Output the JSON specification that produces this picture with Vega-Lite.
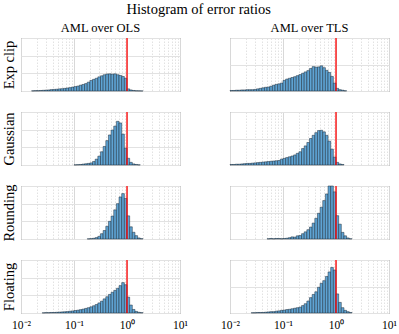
{
  "$schema": "https://vega.github.io/schema/vega-lite/v6.json",
  "padding": {"left": 0, "top": 1, "right": 5, "bottom": 1},
  "title": {"text": "Histogram of error ratios", "font": "Liberation Serif", "fontSize": 14.5, "fontWeight": "normal", "color": "#000000", "anchor": "middle", "frame": "bounds", "offset": 4},
  "config": {
    "view": {"stroke": "#6a6a6a", "strokeWidth": 1},
    "title": {"font": "Liberation Serif", "fontSize": 12.5, "fontWeight": "normal", "color": "#000000", "offset": 3},
    "axis": {"titleFont": "Liberation Serif", "titleFontSize": 14.5, "titleFontWeight": "normal", "titleColor": "#000000", "titlePadding": 5}
  },
  "data": {"values": [
    {"lo": 0.01, "hi": 0.01122, "B": 0.02, "D": 0.02},
    {"lo": 0.01122, "hi": 0.01259, "B": 0.02, "D": 0.02},
    {"lo": 0.01259, "hi": 0.01413, "B": 0.03, "D": 0.03},
    {"lo": 0.01413, "hi": 0.01585, "B": 0.03, "D": 0.03},
    {"lo": 0.01585, "hi": 0.01778, "A": 0.01, "B": 0.04, "D": 0.04},
    {"lo": 0.01778, "hi": 0.01995, "A": 0.02, "B": 0.04, "D": 0.05},
    {"lo": 0.01995, "hi": 0.02239, "A": 0.02, "B": 0.05, "D": 0.06},
    {"lo": 0.02239, "hi": 0.02512, "A": 0.03, "B": 0.05, "D": 0.06},
    {"lo": 0.02512, "hi": 0.02818, "A": 0.04, "B": 0.05, "D": 0.07, "G": 0.01, "H": 0.01},
    {"lo": 0.02818, "hi": 0.03162, "A": 0.05, "B": 0.06, "D": 0.08, "G": 0.02, "H": 0.01},
    {"lo": 0.03162, "hi": 0.03548, "A": 0.06, "B": 0.08, "D": 0.09, "G": 0.02, "H": 0.02},
    {"lo": 0.03548, "hi": 0.03981, "A": 0.08, "B": 0.1, "D": 0.1, "G": 0.03, "H": 0.02},
    {"lo": 0.03981, "hi": 0.04467, "A": 0.09, "B": 0.12, "D": 0.11, "G": 0.03, "H": 0.02},
    {"lo": 0.04467, "hi": 0.05012, "A": 0.1, "B": 0.14, "D": 0.12, "G": 0.04, "H": 0.03},
    {"lo": 0.05012, "hi": 0.05623, "A": 0.12, "B": 0.15, "D": 0.13, "F": 0.01, "G": 0.05, "H": 0.04},
    {"lo": 0.05623, "hi": 0.0631, "A": 0.13, "B": 0.18, "D": 0.14, "F": 0.02, "G": 0.06, "H": 0.05},
    {"lo": 0.0631, "hi": 0.07079, "A": 0.15, "B": 0.22, "D": 0.15, "F": 0.01, "G": 0.07, "H": 0.05},
    {"lo": 0.07079, "hi": 0.07943, "A": 0.17, "B": 0.25, "D": 0.16, "F": 0.02, "G": 0.08, "H": 0.07},
    {"lo": 0.07943, "hi": 0.08913, "A": 0.19, "B": 0.27, "D": 0.17, "F": 0.02, "G": 0.1, "H": 0.08},
    {"lo": 0.08913, "hi": 0.1, "A": 0.22, "B": 0.3, "D": 0.22, "F": 0.01, "G": 0.12, "H": 0.1},
    {"lo": 0.1, "hi": 0.1122, "A": 0.25, "B": 0.4, "C": 0.01, "D": 0.25, "F": 0.02, "G": 0.14, "H": 0.11},
    {"lo": 0.1122, "hi": 0.1259, "A": 0.28, "B": 0.45, "C": 0.02, "D": 0.28, "F": 0.03, "G": 0.16, "H": 0.13},
    {"lo": 0.1259, "hi": 0.1413, "A": 0.33, "B": 0.48, "C": 0.03, "D": 0.31, "F": 0.05, "G": 0.19, "H": 0.14},
    {"lo": 0.1413, "hi": 0.1585, "A": 0.37, "B": 0.51, "C": 0.05, "D": 0.34, "F": 0.08, "G": 0.22, "H": 0.16},
    {"lo": 0.1585, "hi": 0.1778, "A": 0.42, "B": 0.54, "C": 0.07, "D": 0.38, "F": 0.07, "G": 0.26, "H": 0.18},
    {"lo": 0.1778, "hi": 0.1995, "A": 0.5, "B": 0.58, "C": 0.09, "D": 0.44, "E": 0.01, "F": 0.12, "G": 0.3, "H": 0.2},
    {"lo": 0.1995, "hi": 0.2239, "A": 0.6, "B": 0.62, "C": 0.12, "D": 0.5, "E": 0.02, "F": 0.13, "G": 0.35, "H": 0.22},
    {"lo": 0.2239, "hi": 0.2512, "A": 0.66, "B": 0.67, "C": 0.2, "D": 0.62, "E": 0.04, "F": 0.2, "G": 0.41, "H": 0.28},
    {"lo": 0.2512, "hi": 0.2818, "A": 0.72, "B": 0.72, "C": 0.33, "D": 0.72, "E": 0.08, "F": 0.27, "G": 0.48, "H": 0.35},
    {"lo": 0.2818, "hi": 0.3162, "A": 0.8, "B": 0.77, "C": 0.5, "D": 0.85, "E": 0.15, "F": 0.35, "G": 0.57, "H": 0.45},
    {"lo": 0.3162, "hi": 0.3548, "A": 0.86, "B": 0.85, "C": 0.75, "D": 1.0, "E": 0.3, "F": 0.45, "G": 0.67, "H": 0.58},
    {"lo": 0.3548, "hi": 0.3981, "A": 0.92, "B": 0.92, "C": 1.05, "D": 1.12, "E": 0.48, "F": 0.6, "G": 0.8, "H": 0.7},
    {"lo": 0.3981, "hi": 0.4467, "A": 0.96, "B": 0.9, "C": 1.38, "D": 1.22, "E": 0.72, "F": 0.78, "G": 0.92, "H": 0.8},
    {"lo": 0.4467, "hi": 0.5012, "A": 0.97, "B": 0.91, "C": 1.7, "D": 1.3, "E": 1.0, "F": 0.97, "G": 1.05, "H": 0.97},
    {"lo": 0.5012, "hi": 0.5623, "A": 0.95, "B": 0.95, "C": 1.98, "D": 1.31, "E": 1.3, "F": 1.2, "G": 1.17, "H": 1.12},
    {"lo": 0.5623, "hi": 0.631, "A": 0.97, "B": 0.88, "C": 2.2, "D": 1.25, "E": 1.65, "F": 1.45, "G": 1.28, "H": 1.22},
    {"lo": 0.631, "hi": 0.7079, "A": 0.92, "B": 0.78, "C": 2.47, "D": 1.12, "E": 2.0, "F": 1.7, "G": 1.4, "H": 1.38},
    {"lo": 0.7079, "hi": 0.7943, "A": 0.88, "B": 0.7, "C": 2.38, "D": 0.9, "E": 2.38, "F": 2.0, "G": 1.55, "H": 1.55},
    {"lo": 0.7943, "hi": 0.8913, "A": 0.82, "B": 0.55, "C": 1.75, "D": 0.6, "E": 2.57, "F": 2.0, "G": 1.72, "H": 1.72},
    {"lo": 0.8913, "hi": 1, "A": 0.72, "B": 0.3, "C": 0.95, "D": 0.3, "E": 2.3, "F": 1.78, "G": 1.6, "H": 1.62},
    {"lo": 1, "hi": 1.122, "A": 0.12, "B": 0.1, "C": 0.38, "D": 0.1, "E": 1.31, "F": 0.88, "G": 0.9, "H": 0.72},
    {"lo": 1.122, "hi": 1.259, "A": 0.06, "B": 0.05, "C": 0.15, "D": 0.04, "E": 0.69, "F": 0.56, "G": 0.45, "H": 0.4},
    {"lo": 1.259, "hi": 1.413, "A": 0.03, "B": 0.03, "C": 0.06, "D": 0.02, "E": 0.38, "F": 0.25, "G": 0.2, "H": 0.2},
    {"lo": 1.413, "hi": 1.585, "A": 0.015, "B": 0.01, "C": 0.03, "E": 0.19, "F": 0.12, "G": 0.09, "H": 0.1},
    {"lo": 1.585, "hi": 1.778, "A": 0.01, "C": 0.01, "E": 0.06, "F": 0.04, "G": 0.04, "H": 0.05},
    {"lo": 1.778, "hi": 1.995, "A": 0.005, "E": 0.02, "F": 0.01, "G": 0.02, "H": 0.02}
  ]},
  "columns": 2,
  "spacing": {"row": 21, "column": 50},
  "bounds": "flush",
  "concat": [
    {"width": 159, "height": 53, "title": "AML over OLS",
     "layer": [
      {"mark": {"type": "bar", "fill": "#5fa4d4", "stroke": "#1a2836", "strokeWidth": 0.5},
       "encoding": {
        "x": {"field": "lo", "type": "quantitative", "scale": {"type": "log", "domain": [0.01, 10]}, "axis": {"values": [0.01,0.02,0.03,0.04,0.05,0.06,0.07,0.08,0.09,0.1,0.2,0.3,0.4,0.5,0.6,0.7,0.8,0.9,1,2,3,4,5,6,7,8,9,10], "labels": false, "ticks": false, "domain": false, "title": null, "grid": true, "gridColor": {"condition": {"test": "indexof([0.01,0.1,1,10], datum.value) >= 0", "value": "#d8d8d8"}, "value": "#e2e2e2"}, "gridDash": {"condition": {"test": "indexof([0.01,0.1,1,10], datum.value) >= 0", "value": []}, "value": [1.5, 1.5]}}},
        "x2": {"field": "hi"},
        "y": {"field": "A", "type": "quantitative", "scale": {"domain": [0, 3]}, "axis": {"values": [0, 1, 2, 3], "labels": false, "ticks": false, "domain": false, "grid": true, "gridColor": "#e2e2e2", "title": "Exp clip"}},
        "y2": {"datum": 0}
       }},
      {"data": {"values": [{"r": 1}]}, "mark": {"type": "rule", "color": "#ff0000", "strokeWidth": 1.3}, "encoding": {"x": {"field": "r", "type": "quantitative"}}}
     ]},
    {"width": 159, "height": 53, "title": "AML over TLS",
     "layer": [
      {"mark": {"type": "bar", "fill": "#5fa4d4", "stroke": "#1a2836", "strokeWidth": 0.5},
       "encoding": {
        "x": {"field": "lo", "type": "quantitative", "scale": {"type": "log", "domain": [0.01, 10]}, "axis": {"values": [0.01,0.02,0.03,0.04,0.05,0.06,0.07,0.08,0.09,0.1,0.2,0.3,0.4,0.5,0.6,0.7,0.8,0.9,1,2,3,4,5,6,7,8,9,10], "labels": false, "ticks": false, "domain": false, "title": null, "grid": true, "gridColor": {"condition": {"test": "indexof([0.01,0.1,1,10], datum.value) >= 0", "value": "#d8d8d8"}, "value": "#e2e2e2"}, "gridDash": {"condition": {"test": "indexof([0.01,0.1,1,10], datum.value) >= 0", "value": []}, "value": [1.5, 1.5]}}},
        "x2": {"field": "hi"},
        "y": {"field": "B", "type": "quantitative", "scale": {"domain": [0, 2]}, "axis": {"values": [0, 1, 2], "labels": false, "ticks": false, "domain": false, "grid": true, "gridColor": "#e2e2e2", "title": null}},
        "y2": {"datum": 0}
       }},
      {"data": {"values": [{"r": 1}]}, "mark": {"type": "rule", "color": "#ff0000", "strokeWidth": 1.3}, "encoding": {"x": {"field": "r", "type": "quantitative"}}}
     ]},
    {"width": 159, "height": 53,
     "layer": [
      {"mark": {"type": "bar", "fill": "#5fa4d4", "stroke": "#1a2836", "strokeWidth": 0.5},
       "encoding": {
        "x": {"field": "lo", "type": "quantitative", "scale": {"type": "log", "domain": [0.01, 10]}, "axis": {"values": [0.01,0.02,0.03,0.04,0.05,0.06,0.07,0.08,0.09,0.1,0.2,0.3,0.4,0.5,0.6,0.7,0.8,0.9,1,2,3,4,5,6,7,8,9,10], "labels": false, "ticks": false, "domain": false, "title": null, "grid": true, "gridColor": {"condition": {"test": "indexof([0.01,0.1,1,10], datum.value) >= 0", "value": "#d8d8d8"}, "value": "#e2e2e2"}, "gridDash": {"condition": {"test": "indexof([0.01,0.1,1,10], datum.value) >= 0", "value": []}, "value": [1.5, 1.5]}}},
        "x2": {"field": "hi"},
        "y": {"field": "C", "type": "quantitative", "scale": {"domain": [0, 3]}, "axis": {"values": [0, 1, 2, 3], "labels": false, "ticks": false, "domain": false, "grid": true, "gridColor": "#e2e2e2", "title": "Gaussian"}},
        "y2": {"datum": 0}
       }},
      {"data": {"values": [{"r": 1}]}, "mark": {"type": "rule", "color": "#ff0000", "strokeWidth": 1.3}, "encoding": {"x": {"field": "r", "type": "quantitative"}}}
     ]},
    {"width": 159, "height": 53,
     "layer": [
      {"mark": {"type": "bar", "fill": "#5fa4d4", "stroke": "#1a2836", "strokeWidth": 0.5},
       "encoding": {
        "x": {"field": "lo", "type": "quantitative", "scale": {"type": "log", "domain": [0.01, 10]}, "axis": {"values": [0.01,0.02,0.03,0.04,0.05,0.06,0.07,0.08,0.09,0.1,0.2,0.3,0.4,0.5,0.6,0.7,0.8,0.9,1,2,3,4,5,6,7,8,9,10], "labels": false, "ticks": false, "domain": false, "title": null, "grid": true, "gridColor": {"condition": {"test": "indexof([0.01,0.1,1,10], datum.value) >= 0", "value": "#d8d8d8"}, "value": "#e2e2e2"}, "gridDash": {"condition": {"test": "indexof([0.01,0.1,1,10], datum.value) >= 0", "value": []}, "value": [1.5, 1.5]}}},
        "x2": {"field": "hi"},
        "y": {"field": "D", "type": "quantitative", "scale": {"domain": [0, 2]}, "axis": {"values": [0, 1, 2], "labels": false, "ticks": false, "domain": false, "grid": true, "gridColor": "#e2e2e2", "title": null}},
        "y2": {"datum": 0}
       }},
      {"data": {"values": [{"r": 1}]}, "mark": {"type": "rule", "color": "#ff0000", "strokeWidth": 1.3}, "encoding": {"x": {"field": "r", "type": "quantitative"}}}
     ]},
    {"width": 159, "height": 53,
     "layer": [
      {"mark": {"type": "bar", "fill": "#5fa4d4", "stroke": "#1a2836", "strokeWidth": 0.5},
       "encoding": {
        "x": {"field": "lo", "type": "quantitative", "scale": {"type": "log", "domain": [0.01, 10]}, "axis": {"values": [0.01,0.02,0.03,0.04,0.05,0.06,0.07,0.08,0.09,0.1,0.2,0.3,0.4,0.5,0.6,0.7,0.8,0.9,1,2,3,4,5,6,7,8,9,10], "labels": false, "ticks": false, "domain": false, "title": null, "grid": true, "gridColor": {"condition": {"test": "indexof([0.01,0.1,1,10], datum.value) >= 0", "value": "#d8d8d8"}, "value": "#e2e2e2"}, "gridDash": {"condition": {"test": "indexof([0.01,0.1,1,10], datum.value) >= 0", "value": []}, "value": [1.5, 1.5]}}},
        "x2": {"field": "hi"},
        "y": {"field": "E", "type": "quantitative", "scale": {"domain": [0, 3]}, "axis": {"values": [0, 1, 2, 3], "labels": false, "ticks": false, "domain": false, "grid": true, "gridColor": "#e2e2e2", "title": "Rounding"}},
        "y2": {"datum": 0}
       }},
      {"data": {"values": [{"r": 1}]}, "mark": {"type": "rule", "color": "#ff0000", "strokeWidth": 1.3}, "encoding": {"x": {"field": "r", "type": "quantitative"}}}
     ]},
    {"width": 159, "height": 53,
     "layer": [
      {"mark": {"type": "bar", "fill": "#5fa4d4", "stroke": "#1a2836", "strokeWidth": 0.5},
       "encoding": {
        "x": {"field": "lo", "type": "quantitative", "scale": {"type": "log", "domain": [0.01, 10]}, "axis": {"values": [0.01,0.02,0.03,0.04,0.05,0.06,0.07,0.08,0.09,0.1,0.2,0.3,0.4,0.5,0.6,0.7,0.8,0.9,1,2,3,4,5,6,7,8,9,10], "labels": false, "ticks": false, "domain": false, "title": null, "grid": true, "gridColor": {"condition": {"test": "indexof([0.01,0.1,1,10], datum.value) >= 0", "value": "#d8d8d8"}, "value": "#e2e2e2"}, "gridDash": {"condition": {"test": "indexof([0.01,0.1,1,10], datum.value) >= 0", "value": []}, "value": [1.5, 1.5]}}},
        "x2": {"field": "hi"},
        "y": {"field": "F", "type": "quantitative", "scale": {"domain": [0, 2]}, "axis": {"values": [0, 1, 2], "labels": false, "ticks": false, "domain": false, "grid": true, "gridColor": "#e2e2e2", "title": null}},
        "y2": {"datum": 0}
       }},
      {"data": {"values": [{"r": 1}]}, "mark": {"type": "rule", "color": "#ff0000", "strokeWidth": 1.3}, "encoding": {"x": {"field": "r", "type": "quantitative"}}}
     ]},
    {"width": 159, "height": 53,
     "layer": [
      {"mark": {"type": "bar", "fill": "#5fa4d4", "stroke": "#1a2836", "strokeWidth": 0.5},
       "encoding": {
        "x": {"field": "lo", "type": "quantitative", "scale": {"type": "log", "domain": [0.01, 10]}, "axis": {"values": [0.01,0.02,0.03,0.04,0.05,0.06,0.07,0.08,0.09,0.1,0.2,0.3,0.4,0.5,0.6,0.7,0.8,0.9,1,2,3,4,5,6,7,8,9,10], "labels": true, "labelExpr": "datum.value == 0.01 ? '10⁻²' : datum.value == 0.1 ? '10⁻¹' : datum.value == 1 ? '10⁰' : datum.value == 10 ? '10¹' : ''", "labelFont": "Liberation Serif", "labelFontSize": 11.5, "labelColor": "#000000", "labelPadding": 6, "labelFlush": false, "labelOverlap": false, "labelBound": false, "ticks": false, "domain": false, "title": null, "grid": true, "gridColor": {"condition": {"test": "indexof([0.01,0.1,1,10], datum.value) >= 0", "value": "#d8d8d8"}, "value": "#e2e2e2"}, "gridDash": {"condition": {"test": "indexof([0.01,0.1,1,10], datum.value) >= 0", "value": []}, "value": [1.5, 1.5]}}},
        "x2": {"field": "hi"},
        "y": {"field": "G", "type": "quantitative", "scale": {"domain": [0, 3]}, "axis": {"values": [0, 1, 2, 3], "labels": false, "ticks": false, "domain": false, "grid": true, "gridColor": "#e2e2e2", "title": "Floating"}},
        "y2": {"datum": 0}
       }},
      {"data": {"values": [{"r": 1}]}, "mark": {"type": "rule", "color": "#ff0000", "strokeWidth": 1.3}, "encoding": {"x": {"field": "r", "type": "quantitative"}}}
     ]},
    {"width": 159, "height": 53,
     "layer": [
      {"mark": {"type": "bar", "fill": "#5fa4d4", "stroke": "#1a2836", "strokeWidth": 0.5},
       "encoding": {
        "x": {"field": "lo", "type": "quantitative", "scale": {"type": "log", "domain": [0.01, 10]}, "axis": {"values": [0.01,0.02,0.03,0.04,0.05,0.06,0.07,0.08,0.09,0.1,0.2,0.3,0.4,0.5,0.6,0.7,0.8,0.9,1,2,3,4,5,6,7,8,9,10], "labels": true, "labelExpr": "datum.value == 0.01 ? '10⁻²' : datum.value == 0.1 ? '10⁻¹' : datum.value == 1 ? '10⁰' : datum.value == 10 ? '10¹' : ''", "labelFont": "Liberation Serif", "labelFontSize": 11.5, "labelColor": "#000000", "labelPadding": 6, "labelFlush": false, "labelOverlap": false, "labelBound": false, "ticks": false, "domain": false, "title": null, "grid": true, "gridColor": {"condition": {"test": "indexof([0.01,0.1,1,10], datum.value) >= 0", "value": "#d8d8d8"}, "value": "#e2e2e2"}, "gridDash": {"condition": {"test": "indexof([0.01,0.1,1,10], datum.value) >= 0", "value": []}, "value": [1.5, 1.5]}}},
        "x2": {"field": "hi"},
        "y": {"field": "H", "type": "quantitative", "scale": {"domain": [0, 2]}, "axis": {"values": [0, 1, 2], "labels": false, "ticks": false, "domain": false, "grid": true, "gridColor": "#e2e2e2", "title": null}},
        "y2": {"datum": 0}
       }},
      {"data": {"values": [{"r": 1}]}, "mark": {"type": "rule", "color": "#ff0000", "strokeWidth": 1.3}, "encoding": {"x": {"field": "r", "type": "quantitative"}}}
     ]}
  ]
}
